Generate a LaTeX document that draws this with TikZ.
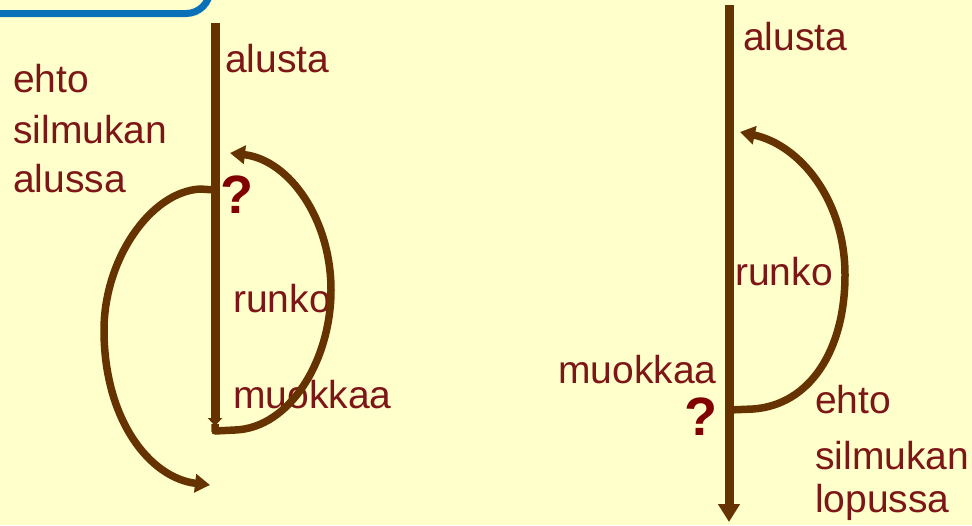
\documentclass[tikz,border=0pt]{standalone}
\usepackage{fontspec}
\setmainfont{Liberation Sans}
\usetikzlibrary{arrows.meta}
\definecolor{bg}{RGB}{255,255,204}
\definecolor{brownline}{RGB}{102,51,0}
\definecolor{txtred}{RGB}{125,22,22}
\definecolor{qred}{RGB}{128,0,0}
\definecolor{frameblue}{RGB}{10,112,184}
\tikzset{
  lbl/.style={anchor=base west, inner sep=0pt, text=txtred, font=\fontsize{39}{51}\selectfont},
  qmark/.style={anchor=base west, inner sep=0pt, text=qred, font=\bfseries\fontsize{54}{60}\selectfont},
  flow/.style={draw=brownline, line width=9pt},
  loop/.style={draw=brownline, line width=7.5pt, line cap=butt, line join=round},
  bigtip/.style={-{Triangle[width=21pt,length=18pt]}},
  curvetip/.style={-{Triangle[width=18pt,length=15pt]}}
}
\begin{document}
\begin{tikzpicture}[x=1pt,y=-1pt]
\useasboundingbox (0,0) rectangle (972,525);
\fill[bg] (0,0) rectangle (972,525);
% blue frame corner
\begin{scope}
\clip (0,0) rectangle (972,525);
\draw[frameblue, line width=7pt] (-10,13.5) -- (186,13.5) arc[start angle=90, end angle=0, radius=24] -- (210,-30);
\end{scope}

% ---------- left diagram ----------
\coordinate (Ltop) at (215,23);
\coordinate (Lend) at (215,426);
\coordinate (Lq) at (215,190);
\coordinate (Lbot) at (215,424);
\draw[flow, -{Triangle[width=14pt,length=8pt]}] (Ltop) -- (Lend);

\node[lbl] (Lalusta) at (225,72) {alusta};
\node[lbl] (Lehto1) at (13,92) {ehto};
\node[lbl] (Lehto2) at (13,143) {silmukan};
\node[lbl] (Lehto3) at (13,192) {alussa};
\node[qmark] (Lqm) at (220,213) {?};
\node[lbl] (Lrunko) at (233,312) {runko};
\node[lbl] (Lmuok) at (233,408) {muokkaa};

% loop exit (condition false) on the left
\coordinate (Lexit) at (210,485);
\draw[loop, curvetip] (Lq) -- (200,189) .. controls (150,192) and (104,260) .. (104,330)
      .. controls (104,420) and (150,478) .. (Lexit);
% loop back on the right
\coordinate (Lback) at (230,153);
\draw[loop, curvetip] (Lbot) -- (215,431) -- (235,430) .. controls (290,428) and (331,360) .. (331,290)
      .. controls (331,220) and (290,160) .. (Lback);

% ---------- right diagram ----------
\coordinate (Rtop) at (729,5);
\coordinate (Rend) at (729,522);
\coordinate (Rq) at (729,410);
\draw[flow, bigtip] (Rtop) -- (Rend);

\node[lbl] (Ralusta) at (743,50) {alusta};
\node[lbl] (Rrunko) at (735,285) {runko};
\node[lbl] (Rmuok) at (558,383) {muokkaa};
\node[qmark] (Rqm) at (684,435) {?};
\node[lbl] (Rehto1) at (815,413) {ehto};
\node[lbl] (Rehto2) at (815,469) {silmukan};
\node[lbl] (Rehto3) at (815,512) {lopussa};

\coordinate (Rback) at (740,132);
\draw[loop, curvetip] (Rq) -- (753,409) .. controls (810,405) and (845,350) .. (845,275)
      .. controls (845,200) and (800,145) .. (Rback);
\end{tikzpicture}
\end{document}
